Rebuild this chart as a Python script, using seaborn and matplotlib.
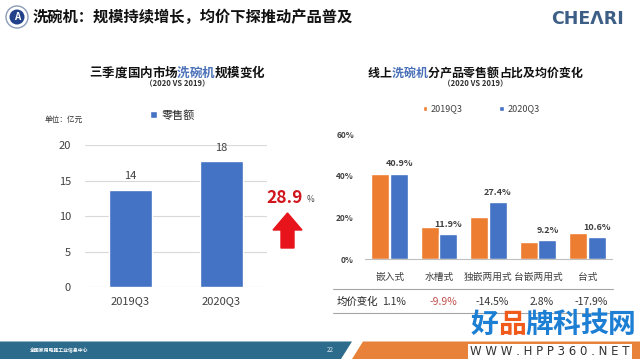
import matplotlib
matplotlib.use("Agg")
import matplotlib.pyplot as plt
import matplotlib.patches as mpatches
import matplotlib.transforms as mtrans
import seaborn as sns
import pandas as pd

# ------------------------------
# Data
# ------------------------------
quarters = ["2019Q3", "2020Q3"]
retail_sales = [13.7, 17.7]          # 亿元
retail_labels = ["14", "18"]
growth_label = "28.9"

products = ["嵌入式", "水槽式", "独嵌两用式", "台嵌两用式", "台式"]
share_2019 = [41.0, 15.3, 20.4, 8.4, 12.8]
share_2020 = [40.9, 11.9, 27.4, 9.2, 10.6]
price_change = ["1.1%", "-9.9%", "-14.5%", "2.8%", "-17.9%"]

BLUE = "#4472C4"
ORANGE = "#ED7D31"
TEXT = "#404040"

sns.set_theme(style="white")
plt.rcParams["font.family"] = ["Noto Sans CJK SC", "DejaVu Sans"]

fig = plt.figure(figsize=(6.4, 3.59), dpi=100)
W, H = 640, 359


def fx(px):
    return px / W


def fy(py):
    return 1 - py / H


def seg_title(x_center, y, parts, size):
    # one full-width cell per character, so coloured pieces line up
    cell = size * 100 / 72
    n = sum(len(t) for t, _ in parts)
    x = x_center - n * cell / 2 + cell / 2
    for t, c in parts:
        for ch in t:
            fig.text(fx(x), fy(y), ch, color=c, fontsize=size, fontweight="bold",
                     ha="center", va="center")
            x += cell


# ------------------------------
# Header
# ------------------------------
fig.patches.append(mpatches.Ellipse((fx(17), fy(17)), 22 / W, 22 / H, transform=fig.transFigure,
                                    facecolor="white", edgecolor="#8a9bb8", lw=1.0))
fig.patches.append(mpatches.Ellipse((fx(17), fy(17)), 15 / W, 15 / H, transform=fig.transFigure,
                                    facecolor="#23418a", edgecolor="none"))
fig.text(fx(17), fy(17.5), "A", color="white", fontsize=7, fontweight="bold",
         ha="center", va="center")
fig.text(fx(33), fy(17), "洗碗机：规模持续增长，均价下探推动产品普及", fontsize=11,
         fontweight="bold", color="#111111", ha="left", va="center")
fig.text(fx(588), fy(19), "CHEΛRI", fontsize=12.5, fontweight="bold", color="#3d5f86",
         ha="center", va="center", family=["DejaVu Sans"])

# ------------------------------
# Left chart: market size
# ------------------------------
seg_title(177, 73, [("三季度国内市场", "#111111"), ("洗碗机", "#4a70b8"), ("规模变化", "#111111")], 9)
fig.text(fx(177), fy(84), "（2020 VS 2019）", fontsize=5.5, fontweight="bold",
         color="#333333", ha="center", va="center")
fig.text(fx(45), fy(120), "单位：亿元", fontsize=5.5, color="#333333", ha="left", va="center")

ax_l = fig.add_axes([fx(85), fy(287.3), fx(267) - fx(85), (287.3 - 145) / H])
left_df = pd.DataFrame({"quarter": quarters, "sales": retail_sales, "series": "零售额"})
sns.barplot(data=left_df, x="quarter", y="sales", hue="series", palette=[BLUE],
            width=0.48, saturation=1, ax=ax_l)
ax_l.set_ylim(0, 20)
ax_l.set_yticks([0, 5, 10, 15, 20])
ax_l.yaxis.grid(True, color="#d9d9d9", lw=0.8)
ax_l.set_axisbelow(True)
sns.despine(ax=ax_l, left=True, bottom=True)
ax_l.set_xlabel("")
ax_l.set_ylabel("")
ax_l.tick_params(axis="y", labelsize=8, colors=TEXT, length=0, pad=10)
ax_l.tick_params(axis="x", labelsize=8, colors=TEXT, length=0, pad=6)
ax_l.bar_label(ax_l.containers[0], labels=retail_labels, fontsize=8, color=TEXT, padding=6)
sns.move_legend(ax_l, "center", bbox_to_anchor=(0.48, 1.21), frameon=False,
                fontsize=8, handlelength=0.6, handleheight=0.6, handletextpad=0.4, title=None)

# growth callout
fig.text(fx(266), fy(198), growth_label, fontsize=12.5, fontweight="bold",
         color="#d0171e", ha="left", va="center")
fig.text(fx(307), fy(200), "%", fontsize=6, color=TEXT, ha="left", va="center")
fig.patches.append(mpatches.FancyArrow(fx(287.5), fy(248), 0, (248 - 213) / H,
                                       width=13 / W, head_width=29 / W,
                                       head_length=17 / H, length_includes_head=True,
                                       transform=fig.transFigure, color="#e8141b"))

# ------------------------------
# Right chart: online share by product
# ------------------------------
seg_title(475, 73, [("线上", "#111111"), ("洗碗机", "#4a70b8"), ("分产品零售额占比及均价变化", "#111111")], 8.6)
fig.text(fx(475), fy(84), "（2020 VS 2019）", fontsize=5.5, fontweight="bold",
         color="#333333", ha="center", va="center")

ax_r = fig.add_axes([fx(365), fy(259.3), fx(612) - fx(365), (259.3 - 134) / H])
right_df = pd.DataFrame({
    "product": products * 2,
    "share": share_2019 + share_2020,
    "year": ["2019Q3"] * 5 + ["2020Q3"] * 5,
})
sns.barplot(data=right_df, x="product", y="share", hue="year", palette=[ORANGE, BLUE],
            width=0.76, gap=0.04, saturation=1, ax=ax_r)
ax_r.set_ylim(0, 60)
ax_r.set_yticks([0, 20, 40, 60])
ax_r.set_yticklabels(["0%", "20%", "40%", "60%"])
sns.despine(ax=ax_r, left=True)
ax_r.spines["bottom"].set_color("#bfbfbf")
ax_r.spines["bottom"].set_linewidth(0.8)
ax_r.set_xlabel("")
ax_r.set_ylabel("")
ax_r.tick_params(axis="y", labelsize=6, colors=TEXT, length=0, pad=8)
for lab in ax_r.get_yticklabels():
    lab.set_fontweight("bold")
ax_r.tick_params(axis="x", labelsize=7, colors=TEXT, length=0, pad=9)
ax_r.bar_label(ax_r.containers[1], labels=[f"{v}%" for v in share_2020],
               fontsize=6.5, fontweight="bold", color=TEXT, padding=4)
sns.move_legend(ax_r, "center", bbox_to_anchor=(0.47, 1.2), ncol=2, frameon=False,
                fontsize=6.5, handlelength=0.5, handleheight=0.5, handletextpad=0.4,
                columnspacing=4, title=None)
for t in ax_r.get_legend().get_texts():
    t.set_color(TEXT)

# price change row
bt = mtrans.blended_transform_factory(ax_r.transData, fig.transFigure)
fig.add_artist(plt.Line2D([fx(333), fx(613)], [fy(289), fy(289)], color="#a6a6a6", lw=0.8))
fig.add_artist(plt.Line2D([fx(333), fx(613)], [fy(313), fy(313)], color="#a6a6a6", lw=0.8))
fig.text(fx(337), fy(302), "均价变化", fontsize=7.5, color="#222222", ha="left", va="center")
for i, v in enumerate(price_change):
    fig.text(i + 0.08, fy(302), v, transform=bt, fontsize=7.5, ha="center", va="center",
             color="#c0504d" if i == 1 else "#333333")

# ------------------------------
# Footer band
# ------------------------------
band_top = fy(341.5)
fig.patches.append(mpatches.Polygon([(0, 0), (0, band_top), (fx(352), band_top), (fx(341), 0)],
                                    closed=True, transform=fig.transFigure,
                                    facecolor="#2d6b8c", edgecolor="none"))
fig.patches.append(mpatches.Polygon([(fx(352), 0), (fx(363), band_top), (1, band_top), (1, 0)],
                                    closed=True, transform=fig.transFigure,
                                    facecolor="#e8823a", edgecolor="none"))
fig.text(fx(30), fy(350.5), "全国家用电器工业信息中心", fontsize=3.5, color="white",
         fontweight="bold", ha="left", va="center")
fig.text(fx(330), fy(350.5), "22", fontsize=4.5, color="#dde8ee", ha="center", va="center")

# ------------------------------
# Site watermark
# ------------------------------
wm_colors = ["#1d7fd3", "#f05a1a", "#1d7fd3", "#1d7fd3", "#1d7fd3", "#1d7fd3"]
for i, (ch, c) in enumerate(zip("好品牌科技网", wm_colors)):
    fig.text(fx(484 + i * 27.5), fy(325), ch, fontsize=20, fontweight="bold", color=c,
             ha="center", va="center")
fig.patches.append(mpatches.Rectangle((fx(468), 0), fx(632) - fx(468), 15 / H,
                                      transform=fig.transFigure, facecolor="white",
                                      edgecolor="none"))
fig.text(fx(550), fy(351.5), "W W W . H P P 3 6 0 . N E T", fontsize=8.5, color="#333333",
         ha="center", va="center", family=["DejaVu Sans"])

fig.savefig("out.png", dpi=100)
